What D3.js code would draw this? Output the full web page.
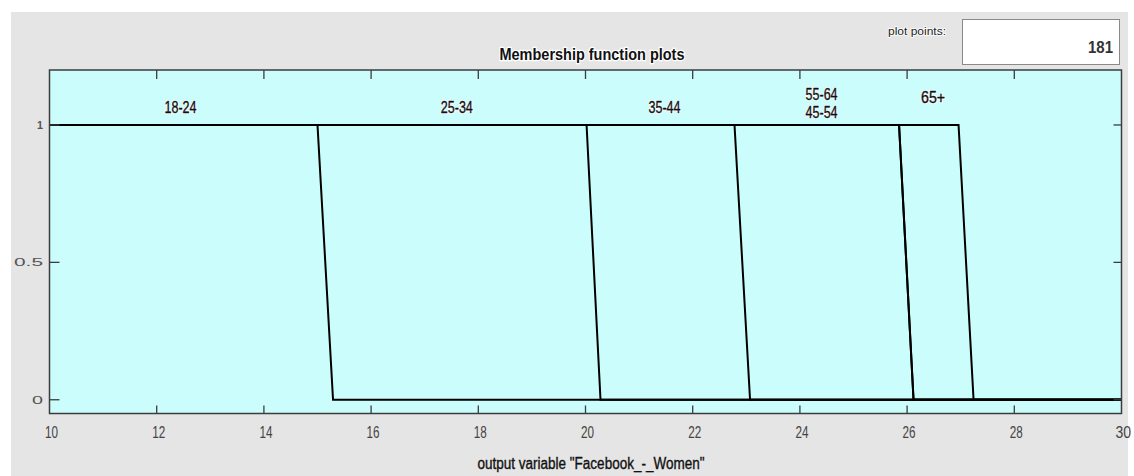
<!DOCTYPE html>
<html>
<head>
<meta charset="utf-8">
<script src="https://cdn.jsdelivr.net/npm/d3@7"></script>
<style>
  html, body { margin: 0; padding: 0; background: #ffffff; }
  svg { display: block; }
  text { font-family: "Liberation Sans Narrow", "Arial Narrow", "Liberation Sans", sans-serif; }
</style>
</head>
<body>
<svg id="chart" width="1134" height="476"></svg>
<script>
// Membership functions of the output variable (trapezoid parameters a, b, c, d)
const mfNames = ["18-24", "25-34", "35-44", "45-54", "55-64", "65+"];
const mfA = [10.00, 15.00, 20.02, 22.78, 22.78, 25.85];
const mfB = [10.00, 15.29, 20.28, 23.07, 23.07, 26.12];
const mfC = [15.00, 20.02, 22.78, 25.85, 25.85, 26.96];
const mfD = [15.29, 20.28, 23.07, 26.12, 26.12, 27.24];

const xDomain = [10, 30];
const yDomain = [-0.05, 1.2];
const xTicks = [10, 12, 14, 16, 18, 20, 22, 24, 26, 28, 30];
const yTicks = [0, 0.5, 1];
const yTickLabels = ["0", "0.5", "1"];

const plotPoints = 181;
const title = "Membership function plots";
const xLabel = 'output variable "Facebook_-_Women"';

(function draw() {
  const svg = d3.select("#chart");
  const W = 1134, H = 476;
  const pLeft = 49.5, pRight = 1121.5, pTop = 70, pBottom = 413.5;

  const x = d3.scaleLinear().domain(xDomain).range([pLeft, pRight]);
  const y = d3.scaleLinear().domain(yDomain).range([pBottom, pTop]);

  // panel background
  svg.append("rect").attr("x", 11).attr("y", 12).attr("width", 1117).attr("height", H - 12)
    .attr("fill", "#e5e5e5");

  // plot area
  svg.append("rect").attr("x", pLeft).attr("y", pTop)
    .attr("width", pRight - pLeft).attr("height", pBottom - pTop)
    .attr("fill", "#cbfdfd");

  // membership function outlines
  const line = d3.line().x(d => x(d[0])).y(d => y(d[1]));
  const mfs = mfNames.map((name, i) => ({
    name, a: mfA[i], b: mfB[i], c: mfC[i], d: mfD[i]
  }));
  svg.append("g").selectAll("path").data(mfs).join("path")
    .attr("d", m => line([[m.a, 1], [m.c, 1], [m.d, 0], [xDomain[1], 0]]))
    .attr("fill", "none").attr("stroke", "#000").attr("stroke-width", 2)
    .attr("stroke-linejoin", "miter");

  // membership function labels, centred on each plateau
  const labelNudge = { "55-64": -13, "45-54": 5, "65+": -10 };
  const labels = svg.append("g");
  // white halo first, then the dark glyphs
  [["#ffffff", 2], ["#111111", 0.35]].forEach(([stroke, sw]) => {
    labels.append("g").selectAll("text").data(mfs).join("text")
      .attr("x", m => x((m.b + m.c) / 2) - 3)
      .attr("y", m => y(1) - 12 + (labelNudge[m.name] || 0))
      .attr("text-anchor", "middle")
      .attr("font-size", 16)
      .attr("textLength", m => m.name.length === 3 ? 24 : 32)
      .attr("lengthAdjust", "spacingAndGlyphs")
      .attr("fill", "#111")
      .attr("stroke", stroke).attr("stroke-width", sw)
      .text(m => m.name);
  });

  // axes (inward ticks, box frame)
  const innerX = xTicks.filter(t => t > xDomain[0] && t < xDomain[1]);
  const tickLen = 8;
  const axisColor = "#3c3c3c";

  svg.append("g").selectAll("line").data(innerX).join("line")
    .attr("x1", d => x(d)).attr("x2", d => x(d))
    .attr("y1", pBottom).attr("y2", pBottom - tickLen)
    .attr("stroke", axisColor).attr("stroke-width", 1.3);
  svg.append("g").selectAll("line").data(innerX).join("line")
    .attr("x1", d => x(d)).attr("x2", d => x(d))
    .attr("y1", pTop).attr("y2", pTop + tickLen + 1)
    .attr("stroke", axisColor).attr("stroke-width", 1.3);
  svg.append("g").selectAll("line").data(yTicks).join("line")
    .attr("x1", pLeft).attr("x2", pLeft + 10)
    .attr("y1", d => y(d)).attr("y2", d => y(d))
    .attr("stroke", axisColor).attr("stroke-width", 1.3);
  svg.append("g").selectAll("line").data(yTicks).join("line")
    .attr("x1", pRight).attr("x2", pRight - 8)
    .attr("y1", d => y(d)).attr("y2", d => y(d))
    .attr("stroke", axisColor).attr("stroke-width", 1.3);

  svg.append("rect").attr("x", pLeft).attr("y", pTop)
    .attr("width", pRight - pLeft).attr("height", pBottom - pTop)
    .attr("fill", "none").attr("stroke", axisColor).attr("stroke-width", 1.5);

  // x tick labels; the last one is right-aligned so it stays inside the window
  const lastTick = xTicks[xTicks.length - 1];
  const xLabels = svg.append("g");
  xLabels.selectAll("text").data(xTicks.filter(d => d !== lastTick)).join("text")
    .attr("x", d => x(d) + 2).attr("y", 438)
    .attr("text-anchor", "middle")
    .attr("font-size", 17)
    .attr("textLength", 13).attr("lengthAdjust", "spacingAndGlyphs")
    .attr("fill", "#444")
    .text(d => d);
  xLabels.append("text")
    .attr("x", W - 3).attr("y", 438)
    .attr("text-anchor", "end")
    .attr("font-size", 14)
    .attr("transform", `translate(${W - 3},438) scale(1,1.2) translate(${-(W - 3)},-438)`)
    .attr("fill", "#444")
    .text(lastTick);

  // y tick labels
  svg.append("g").selectAll("text").data(yTicks).join("text")
    .attr("x", 43).attr("y", d => y(d) + 4)
    .attr("text-anchor", "end")
    .attr("font-family", "'DejaVu Sans', sans-serif")
    .attr("font-size", 11)
    .attr("font-weight", (d, i) => yTickLabels[i] === "1" ? "bold" : "normal")
    .attr("textLength", (d, i) => yTickLabels[i].length === 3 ? 29 : (yTickLabels[i] === "0" ? 11 : 6))
    .attr("lengthAdjust", "spacingAndGlyphs")
    .attr("fill", "#555")
    .text((d, i) => yTickLabels[i]);

  // title
  svg.append("text")
    .attr("x", 592).attr("y", 60)
    .attr("text-anchor", "middle")
    .attr("font-size", 17).attr("font-weight", "bold")
    .attr("textLength", 185).attr("lengthAdjust", "spacingAndGlyphs")
    .attr("fill", "#111")
    .attr("stroke", "#ffffff").attr("stroke-width", 2.5).attr("paint-order", "stroke")
    .text(title);

  // x axis label
  svg.append("text")
    .attr("x", 591).attr("y", 469)
    .attr("text-anchor", "middle")
    .attr("font-size", 16)
    .attr("textLength", 227).attr("lengthAdjust", "spacingAndGlyphs")
    .attr("fill", "#111")
    .attr("stroke", "#111").attr("stroke-width", 0.35)
    .text(xLabel);

  // plot points field
  svg.append("text")
    .attr("x", 888).attr("y", 35)
    .attr("font-size", 11)
    .attr("textLength", 58).attr("lengthAdjust", "spacingAndGlyphs")
    .attr("fill", "#222")
    .attr("stroke", "#ffffff").attr("stroke-width", 1.5).attr("paint-order", "stroke")
    .text("plot points:");
  svg.append("rect").attr("x", 962.5).attr("y", 19.5).attr("width", 157).attr("height", 45)
    .attr("fill", "#ffffff").attr("stroke", "#8a8a8a").attr("stroke-width", 1);
  svg.append("text")
    .attr("x", 1113).attr("y", 53)
    .attr("text-anchor", "end")
    .attr("font-size", 17).attr("font-weight", "bold")
    .attr("textLength", 25).attr("lengthAdjust", "spacingAndGlyphs")
    .attr("fill", "#333")
    .text(plotPoints);
})();
</script>
</body>
</html>
